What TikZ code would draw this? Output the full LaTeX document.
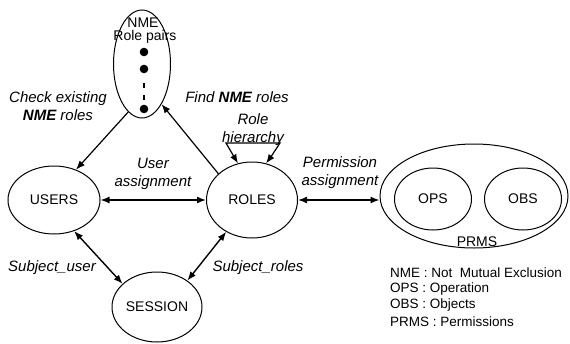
\documentclass[tikz,border=0pt]{standalone}
\usepackage{fontspec}
\setmainfont{Liberation Sans}
\usetikzlibrary{shapes.geometric,arrows.meta}

\begin{document}
\begin{tikzpicture}[x=1pt,y=-1pt,%%
  ellStyle/.style={draw,ellipse,line width=1pt,inner sep=0pt,%%
    font=\fontsize{14}{16}\selectfont},%%
  labelStyle/.style={align=center,font=\fontsize{15}{18}\selectfont\itshape},%%
  legendStyle/.style={anchor=west,inner sep=0pt,font=\fontsize{13.5}{16}\selectfont},%%
  arrowStyle/.style={-{Latex[length=9pt,width=7pt]},line width=1.2pt},%%
  dblArrowStyle/.style={{Latex[length=9pt,width=7pt]}-{Latex[length=9pt,width=7pt]},line width=1.4pt}%%
]
\useasboundingbox (0,0) rectangle (570,343);
%%
%% The four main ellipses.
\node[ellStyle,minimum width=57,minimum height=108] (nme) at (142,64) {};
\node[ellStyle,minimum width=92,minimum height=68] (users) at (54,200) {USERS};
\node[ellStyle,minimum width=91,minimum height=76] (roles) at (252,200) {ROLES};
\node[ellStyle,minimum width=90,minimum height=70] (session) at (157,307) {SESSION};
%%
%% Permissions with operations and objects inside.
\node[ellStyle,minimum width=188,minimum height=104] (prms) at (474,196) {};
\node[ellStyle,minimum width=77,minimum height=62] (ops) at (433,199) {OPS};
\node[ellStyle,minimum width=77,minimum height=62] (obs) at (523,199) {OBS};
\node[font=\fontsize{14}{16}\selectfont,inner sep=0pt] (prmsLabel) at (477,242) {PRMS};
%%
%% Contents of the NME ellipse.
\node[font=\fontsize{14}{16}\selectfont,inner sep=0pt] (nmeTitle) at (143,23) {NME};
\node[font=\fontsize{14}{16}\selectfont,inner sep=0pt] (nmePairs) at (145,37) {Role pairs};
\foreach \yy in {52,69,109} {
  \fill (144,\yy) circle (4.3);
}
\foreach \yy in {85,97} {
  \fill (142.8,\yy-2.5) rectangle (145.2,\yy+2.5);
}
%%
%% Labels.
\node[labelStyle] (checkLabel) at (58,106) {Check existing\\\textbf{NME} roles};
\node[labelStyle] (findLabel) at (237,97) {Find \textbf{NME} roles};
\node[labelStyle] (hierLabel) at (253,130) {Role\\hierarchy};
\node[labelStyle] (userLabel) at (153,174) {User\\assignment};
\node[labelStyle] (permLabel) at (340,173) {Permission\\assignment};
\node[labelStyle] (subjUserLabel) at (52,268) {Subject\_user};
\node[labelStyle] (subjRolesLabel) at (258,268) {Subject\_roles};
%%
%% Legend.
\node[legendStyle] (legNme) at (390,273) {NME : Not\ \ Mutual Exclusion};
\node[legendStyle] (legOps) at (390,289) {OPS : Operation};
\node[legendStyle] (legObs) at (390,305) {OBS : Objects};
\node[legendStyle] (legPrms) at (390,322) {PRMS : Permissions};
%%
%% Connectors.
\draw[arrowStyle] (nme.-106) -- (users.54);
\draw[arrowStyle] (roles.142) -- (nme.-64);
\draw[dblArrowStyle] (users.east) -- (roles.west);
\draw[dblArrowStyle] (users.-57) -- (session.146);
\draw[dblArrowStyle] (roles.-129) -- (session.41);
\draw[dblArrowStyle] (roles.east) -- (roles.east -| prms.west);
%% Role hierarchy loop.
\coordinate (hierL) at (226,143);
\coordinate (hierR) at (280,143);
\draw[dblArrowStyle,line width=1.2pt] (roles.111) .. controls (230,150) .. (hierL)
  -- (hierR) .. controls (276,150) .. (roles.69);
\end{tikzpicture}
\end{document}
